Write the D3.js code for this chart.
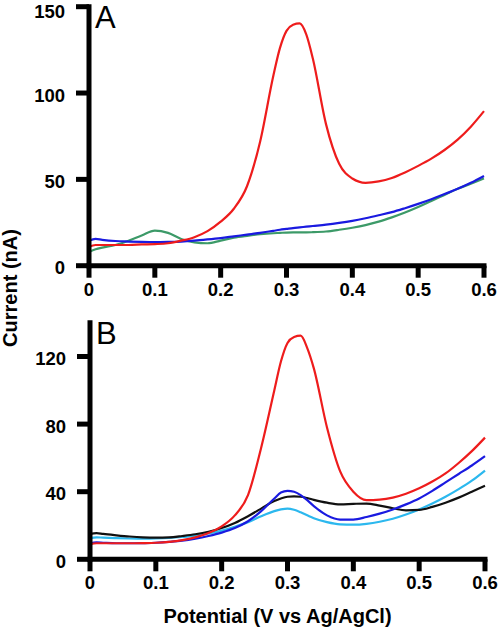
<!DOCTYPE html>
<html><head><meta charset="utf-8">
<script src="https://cdn.jsdelivr.net/npm/d3@7"></script>
<style>
body{margin:0;background:#fff;}
svg{display:block;}
text{font-family:"Liberation Sans",Arial,Helvetica,sans-serif;}
</style></head>
<body>
<svg id="chart" width="500" height="628"></svg>
<script>
// Potential (V vs Ag/AgCl) sample positions
const potential = [0,0.01,0.02,0.04,0.06,0.08,0.10,0.12,0.14,0.16,0.18,0.20,0.22,0.24,0.26,0.28,0.29,0.30,0.31,0.32,0.33,0.34,0.36,0.38,0.40,0.42,0.44,0.46,0.48,0.50,0.52,0.54,0.56,0.58,0.60];

// Panel A currents (nA)
const aRed   = [11,12,12,12,12,12.3,12.5,13,14.5,16.5,20,25.5,33,46,72,110,126,136,139.5,140.3,134,120,82,59,50.5,48,48.8,50.8,54,57.8,62,67,73,80.5,89.5];
const aBlue  = [14.5,15.5,15,14.3,14,13.8,13.7,13.8,14,14.5,15.2,16,17,18,19,20.2,20.8,21.3,21.8,22.2,22.6,23,23.8,24.8,26,27.5,29.2,31,33.3,35.8,38.5,41.5,44.5,48,52];
const aGreen = [8,9.5,10.5,12,14.5,17.5,20.3,19,15.5,13.5,13,14.5,16.2,17.3,18.2,18.8,19,19.2,19.3,19.3,19.3,19.4,19.8,20.8,22,23.5,25.5,28,30.8,34,37.5,41,44.5,47.5,50.5];

// Panel B currents (nA)
const bRed   = [9,9.5,9.5,9.5,9.5,9.6,9.8,10.3,11.3,13,15.5,19.5,26,38,66,100,117,128,131.5,132.3,125,113,78,52,40,35,35.3,36.5,38.8,42,46,50.8,57,64,72];
const bBlue  = [9.5,10,9.8,9.5,9.5,9.6,9.8,10.3,11,12.2,13.8,15.8,18.5,22.5,28.5,36,39.5,40.5,40,38,35,31.5,26,23.5,23.5,25,27,29.5,32.5,36,40.5,45.5,50.5,55.5,61];
const bCyan  = [12.5,13,12.8,12.5,12.3,12.2,12.3,12.6,13.2,14,15.3,17,19.3,22,25.5,28.5,29.5,30,29.3,27.8,26,24.3,22,20.7,20.5,21,22.2,24,26.5,29.5,33,37,41.5,46.5,52.5];
const bBlack = [15,15.5,15,14.2,13.5,13,12.8,13,13.8,14.8,16.3,18.5,21.5,25.5,30,34.5,36,37,37.2,37,36.2,35.2,33.5,32.5,32.8,33,31.8,30.2,29,29.2,31,33.5,36.5,40,43.5];

const xTicks = [0,0.1,0.2,0.3,0.4,0.5,0.6];
const aYTicks = [0,50,100,150];
const bYTicks = [0,40,80,120];

const colors = {red:"#ee1c1c", blue:"#1a1ae0", green:"#3c9a68", cyan:"#2cb8ee", black:"#111"};

const svg = d3.select("#chart");
const fmtX = d => d === 0 ? "0" : d3.format(".1f")(d);

function panel(cfg){
  const x = d3.scaleLinear().domain([0,0.6]).range(cfg.xr);
  const y = d3.scaleLinear().domain([0,cfg.ymax]).range(cfg.yr);
  const g = svg.append("g");
  const line = d3.line().x((d,i)=>x(potential[i])).y(d=>y(d)).curve(d3.curveMonotoneX);
  cfg.series.forEach(s=>{
    g.append("path").datum(s.values).attr("d",line)
      .attr("fill","none").attr("stroke",s.color).attr("stroke-width",2.2)
      .attr("stroke-linejoin","round");
  });
  const ax = g.append("g");
  const y0 = y(0), x0 = x(0);
  // x axis
  ax.append("line").attr("x1",x0).attr("x2",x(0.6)).attr("y1",y0).attr("y2",y0)
    .attr("stroke","#000").attr("stroke-width",5).attr("stroke-linecap","square");
  ax.selectAll("line.xt").data(xTicks).join("line").attr("class","xt")
    .attr("x1",d=>x(d)).attr("x2",d=>x(d)).attr("y1",y0).attr("y2",y0+12)
    .attr("stroke","#000").attr("stroke-width",5);
  ax.selectAll("text.xl").data(xTicks).join("text").attr("class","xl")
    .attr("x",d=>x(d)).attr("y",y0+30).attr("text-anchor","middle")
    .style("font-size","18.5px").style("font-weight","bold").text(fmtX);
  // y axis
  ax.append("line").attr("x1",x0).attr("x2",x0).attr("y1",y0).attr("y2",y(cfg.ymax))
    .attr("stroke","#000").attr("stroke-width",5).attr("stroke-linecap","square");
  ax.selectAll("line.yt").data(cfg.yTicks).join("line").attr("class","yt")
    .attr("x1",x0-13).attr("x2",x0).attr("y1",d=>y(d)).attr("y2",d=>y(d))
    .attr("stroke","#000").attr("stroke-width",5);
  ax.selectAll("text.yl").data(cfg.yTicks).join("text").attr("class","yl")
    .attr("x",x0-24).attr("y",d=>Math.max(y(d)+8.5,17.5)).attr("text-anchor","end")
    .style("font-size","18.5px").style("font-weight","bold").text(d=>d);
  g.append("text").attr("x",x0+6).attr("y",cfg.yr[1]+21)
    .style("font-size","31px").text(cfg.label);
}

panel({xr:[89,484], yr:[265.7,6.7], ymax:150, yTicks:aYTicks, label:"A",
  series:[{values:aGreen,color:colors.green},{values:aBlue,color:colors.blue},{values:aRed,color:colors.red}]});
panel({xr:[90,485], yr:[559.3,322.7], ymax:140, yTicks:bYTicks, label:"B",
  series:[{values:bCyan,color:colors.cyan},{values:bBlack,color:colors.black},{values:bBlue,color:colors.blue},{values:bRed,color:colors.red}]});

svg.append("text").attr("x",277.5).attr("y",623).attr("text-anchor","middle")
  .style("font-size","20px").style("font-weight","bold").text("Potential (V vs Ag/AgCl)");
svg.append("text").attr("transform","translate(16.5,288) rotate(-90)").attr("text-anchor","middle")
  .style("font-size","20px").style("font-weight","bold").text("Current (nA)");
</script>
</body></html>
